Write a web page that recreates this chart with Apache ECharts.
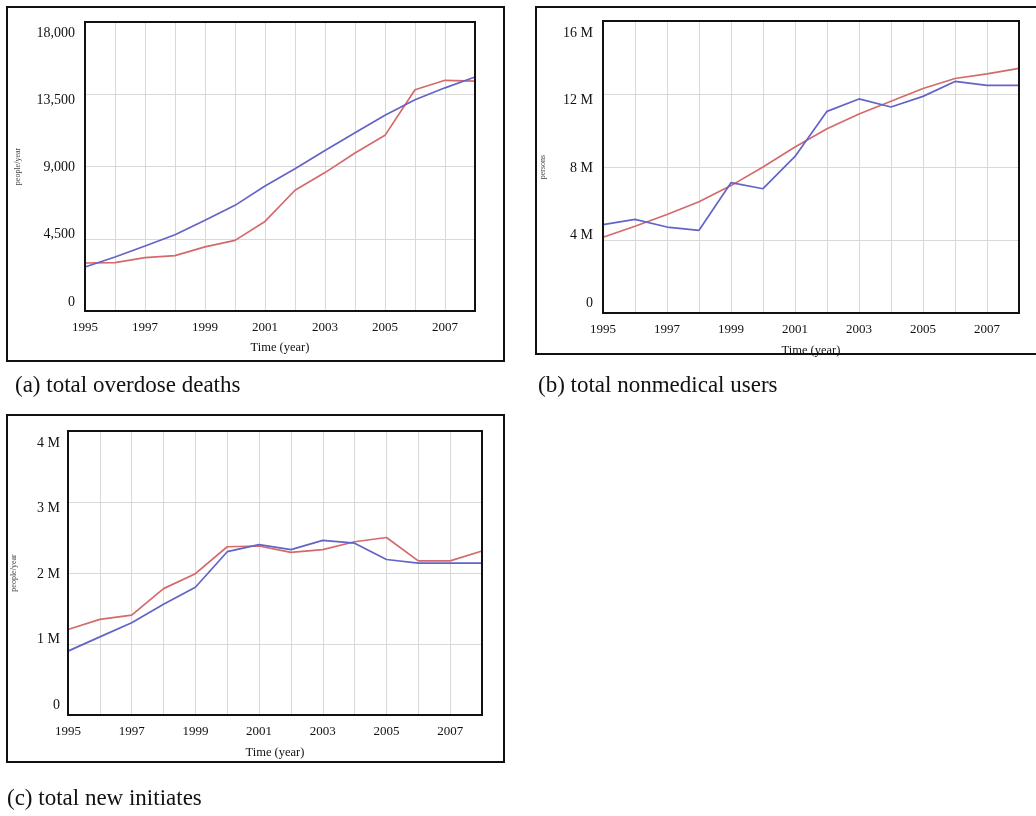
<!DOCTYPE html>
<html>
<head>
<meta charset="utf-8">
<script src="https://cdn.jsdelivr.net/npm/echarts@6/dist/echarts.min.js"></script>
<style>
html,body{margin:0;padding:0;background:#fff;}
#chart{width:1036px;height:816px;}
</style>
</head>
<body>
<div id="chart"></div>
<script>
// ---- data ----
const years = [1995,1996,1997,1998,1999,2000,2001,2002,2003,2004,2005,2006,2007,2008];
const yearLabels = [1995,1997,1999,2001,2003,2005,2007];

// (a) total overdose deaths (people/year)
const deathsRed  = [2990,3010,3320,3450,3990,4400,5580,7520,8620,9840,10940,13780,14370,14320];
const deathsBlue = [2740,3360,4050,4750,5650,6580,7790,8860,10000,11100,12190,13160,13900,14570];
const deathsTicks = [0,4500,9000,13500,18000];

// (b) total nonmedical users (persons), millions
const usersRed  = [4.15,4.75,5.4,6.1,6.98,8.0,9.1,10.1,10.9,11.6,12.3,12.85,13.1,13.4];
const usersBlue = [4.84,5.13,4.71,4.53,7.14,6.81,8.58,11.05,11.73,11.29,11.87,12.69,12.47,12.47];
const usersTicks = [0,4,8,12,16];

// (c) total new initiates (people/year), millions
const initRed  = [1.205,1.346,1.407,1.78,1.99,2.37,2.38,2.29,2.33,2.44,2.50,2.17,2.17,2.31];
const initBlue = [0.90,1.10,1.30,1.56,1.80,2.30,2.40,2.33,2.46,2.42,2.19,2.14,2.14,2.14];
const initTicks = [0,1,2,3,4];

const captions = ['(a) total overdose deaths','(b) total nonmedical users','(c) total new initiates'];
const yNames = ['people/year','persons','people/year'];
const xName = 'Time (year)';

// ---- styling ----
const RED = '#d46a6c';
const BLUE = '#6464c8';
const SERIF = '"Liberation Serif","Times New Roman",serif';
const GRIDLINE = '#d9d9d9';

const grids = [
  {left:85, top:22, width:390, height:289},
  {left:603, top:21, width:416, height:292},
  {left:68, top:431, width:414, height:284}
];

function pairs(vals){ return years.map((y,i)=>[y, vals[i]]); }

function xAxisFor(gi, labelMargin, nameGap){
  return {
    type:'value', gridIndex:gi, min:years[0], max:years[years.length-1], interval:1,
    axisLine:{show:false},
    axisTick:{show:false},
    splitLine:{show:true, lineStyle:{color:GRIDLINE, width:1}},
    axisLabel:{
      margin:labelMargin, fontFamily:SERIF, fontSize:13, color:'#111',
      formatter:(v)=> yearLabels.indexOf(v) >= 0 ? String(v) : ''
    },
    name:xName, nameLocation:'middle', nameGap:nameGap,
    nameTextStyle:{fontFamily:SERIF, fontSize:12.5, color:'#111'}
  };
}

function yMainFor(gi, ticks, name, nameGap){
  return {
    type:'value', gridIndex:gi, min:ticks[0], max:ticks[ticks.length-1],
    interval:ticks[1]-ticks[0],
    axisLine:{show:false},
    axisTick:{show:false},
    axisLabel:{show:false},
    splitLine:{show:true, lineStyle:{color:GRIDLINE, width:1}},
    name:name, nameLocation:'middle', nameGap:nameGap,
    nameTextStyle:{fontFamily:SERIF, fontSize:8, color:'#444'}
  };
}

// label-only axis: the tick labels sit slightly inside the plot ends, as in the reference
function yLabelFor(gi, ticks, fmt, insetTop, insetBottom, margin){
  const maxV = ticks[ticks.length-1];
  const plotH = grids[gi].height;
  const s = (plotH - insetTop - insetBottom) / maxV;
  return {
    type:'value', gridIndex:gi, position:'left',
    min: -insetBottom / s, max: maxV + insetTop / s,
    axisLine:{show:false}, axisTick:{show:false}, splitLine:{show:false},
    axisLabel:{
      customValues: ticks, margin:margin,
      fontFamily:SERIF, fontSize:14, color:'#111',
      formatter: fmt
    }
  };
}

const fmtThousands = (v)=> Math.round(v).toLocaleString('en-US');
const fmtM = (v)=> { const r = Math.round(v); return r === 0 ? '0' : r + ' M'; };

const captionStyle = {fontFamily:SERIF, fontSize:23, fontWeight:'normal', color:'#111'};

const frameRects = [
  {x:7, y:7, width:497, height:354},
  {x:536, y:7, width:520, height:347},
  {x:7, y:415, width:497, height:347}
];

const option = {
  backgroundColor:'#fff',
  animation:false,
  title: [
    {text:captions[0], left:15, top:374, padding:0, textStyle:captionStyle},
    {text:captions[1], left:538, top:374, padding:0, textStyle:captionStyle},
    {text:captions[2], left:7, top:787, padding:0, textStyle:captionStyle}
  ],
  graphic: frameRects.map(r => ({
      type:'rect', shape:r, style:{fill:'none', stroke:'#111', lineWidth:2}, silent:true, z:100
    })).concat(grids.map(g => ({
      type:'rect', shape:{x:g.left, y:g.top, width:g.width, height:g.height},
      style:{fill:'none', stroke:'#111', lineWidth:2}, silent:true, z:100
    }))),
  grid: grids.map(g => Object.assign({show:false, containLabel:false}, g)),
  xAxis: [
    xAxisFor(0, 10, 30),
    xAxisFor(1, 10, 31),
    xAxisFor(2, 10, 31)
  ],
  yAxis: [
    yMainFor(0, deathsTicks, yNames[0], 63),
    yLabelFor(0, deathsTicks, fmtThousands, 11, 9, 10),
    yMainFor(1, usersTicks, yNames[1], 56),
    yLabelFor(1, usersTicks, fmtM, 12, 10, 10),
    yMainFor(2, initTicks, yNames[2], 50),
    yLabelFor(2, initTicks, fmtM, 12, 10, 8)
  ],
  series: [
    {type:'line', xAxisIndex:0, yAxisIndex:0, data:pairs(deathsRed), showSymbol:false, lineStyle:{color:RED, width:1.7}, itemStyle:{color:RED}},
    {type:'line', xAxisIndex:0, yAxisIndex:0, data:pairs(deathsBlue), showSymbol:false, lineStyle:{color:BLUE, width:1.7}, itemStyle:{color:BLUE}},
    {type:'line', xAxisIndex:1, yAxisIndex:2, data:pairs(usersRed), showSymbol:false, lineStyle:{color:RED, width:1.7}, itemStyle:{color:RED}},
    {type:'line', xAxisIndex:1, yAxisIndex:2, data:pairs(usersBlue), showSymbol:false, lineStyle:{color:BLUE, width:1.7}, itemStyle:{color:BLUE}},
    {type:'line', xAxisIndex:2, yAxisIndex:4, data:pairs(initRed), showSymbol:false, lineStyle:{color:RED, width:1.7}, itemStyle:{color:RED}},
    {type:'line', xAxisIndex:2, yAxisIndex:4, data:pairs(initBlue), showSymbol:false, lineStyle:{color:BLUE, width:1.7}, itemStyle:{color:BLUE}}
  ]
};

const chart = echarts.init(document.getElementById('chart'), null, {renderer:'canvas'});
chart.setOption(option);
</script>
</body>
</html>
